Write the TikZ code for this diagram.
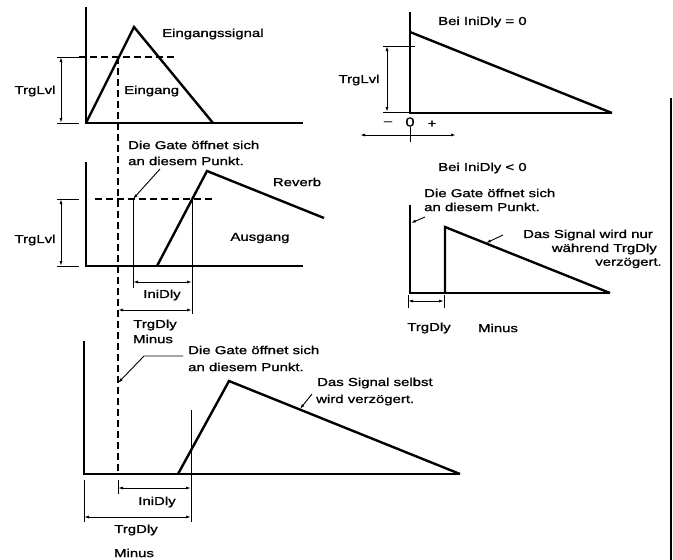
\documentclass[tikz,border=0pt]{standalone}
\usepackage{fontspec}
\setmainfont{Liberation Sans}[FakeStretch=1.3, FakeBold=1.2]
\usepackage{tikz}
\usetikzlibrary{arrows.meta}

\begin{document}
\begin{tikzpicture}[x=1pt, y=-1pt,
      sig/.style={line width=2.4pt, line join=miter},
      ax/.style={line width=1.1pt},
      thn/.style={line width=0.9pt},
      dsh/.style={line width=1.1pt, dash pattern=on 7pt off 4pt},
      dim/.style={{Latex[length=5pt,width=3pt]}-{Latex[length=5pt,width=3pt]}, line width=0.9pt},
      ptr/.style={-{Latex[length=5pt,width=3pt]}, line width=0.9pt},
      lbl/.style={font=\fontsize{11.5}{14}\selectfont, inner sep=0pt},
    ]
      \useasboundingbox (0,0) rectangle (673,560);

      % top left: Eingang
      \coordinate (tl-t) at (86,7);   \coordinate (tl-o) at (86,123);  \coordinate (tl-e) at (303,123);
      \coordinate (tl-p) at (134,27); \coordinate (tl-z) at (213,123);
      \coordinate (tl-h0) at (79,57); \coordinate (tl-h1) at (177,57);
      \coordinate (tl-k0) at (57,57); \coordinate (tl-k1) at (57,123); \coordinate (tl-k2) at (79,123);
      \coordinate (tl-d0) at (61,57); \coordinate (tl-d1) at (61,123);
      \draw[ax] (tl-t) -- (tl-o) -- (tl-e);
      \draw[sig] (tl-o) -- (tl-p) -- (tl-z);
      \draw[dsh] (tl-h0) -- (tl-h1);
      \draw[thn] (tl-k0) -- (tl-h0); \draw[thn] (tl-k1) -- (tl-k2);
      \draw[dim] (tl-d0) -- (tl-d1);
      \node[lbl] (tl-lvl) at (35,91) {TrgLvl};
      \node[lbl, anchor=west] (tl-sig) at (162,34) {Eingangssignal};
      \node[lbl, anchor=west] (tl-ein) at (124,91) {Eingang};

      % gate line through all left plots
      \coordinate (g-t) at (118,57); \coordinate (g-b) at (118,474);
      \coordinate (g-k0) at (118,480); \coordinate (g-k1) at (118,494);
      \draw[dsh] (g-t) -- (g-b);
      \draw[thn] (g-k0) -- (g-k1);

      % middle left: Ausgang
      \coordinate (ml-t) at (86,162); \coordinate (ml-o) at (86,266); \coordinate (ml-e) at (303,266);
      \coordinate (ml-h0) at (95,199); \coordinate (ml-h1) at (212,199);
      \coordinate (ml-k0) at (57,199); \coordinate (ml-k1) at (79,199);
      \coordinate (ml-k2) at (57,266); \coordinate (ml-k3) at (79,266);
      \coordinate (ml-d0) at (61,199); \coordinate (ml-d1) at (61,266);
      \coordinate (ml-g0) at (133,199); \coordinate (ml-g1) at (133,288);
      \coordinate (ml-s0) at (157,266); \coordinate (ml-p) at (207,171); \coordinate (ml-z) at (324,218);
      \coordinate (ml-v0) at (192,199); \coordinate (ml-v1) at (192,314);
      \coordinate (ml-i0) at (133,282); \coordinate (ml-i1) at (192,282);
      \coordinate (ml-m0) at (118,310); \coordinate (ml-m1) at (192,310);
      \coordinate (ml-a0) at (160,169);
      \draw[ax] (ml-t) -- (ml-o) -- (ml-e);
      \draw[dsh] (ml-h0) -- (ml-h1);
      \draw[thn] (ml-k0) -- (ml-k1); \draw[thn] (ml-k2) -- (ml-k3);
      \draw[dim] (ml-d0) -- (ml-d1);
      \draw[thn] (ml-g0) -- (ml-g1);
      \draw[sig] (ml-s0) -- (ml-p) -- (ml-z);
      \draw[thn] (ml-v0) -- (ml-v1);
      \draw[dim] (ml-i0) -- (ml-i1);
      \draw[dim] (ml-m0) -- (ml-m1);
      \draw[ptr] (ml-a0) -- (ml-g0);
      \node[lbl] (ml-lvl) at (35,240) {TrgLvl};
      \node[lbl, anchor=west] (ml-gate1) at (128,145) {Die Gate öffnet sich};
      \node[lbl, anchor=west] (ml-gate2) at (128,161) {an diesem Punkt.};
      \node[lbl] (ml-rev) at (297,182) {Reverb};
      \node[lbl] (ml-aus) at (260,238) {Ausgang};
      \node[lbl] (ml-ini) at (162,295) {IniDly};
      \node[lbl] (ml-trg) at (155,325) {TrgDly};
      \node[lbl] (ml-min) at (153,339) {Minus};

      % bottom left: delayed signal
      \coordinate (bl-t) at (84,341); \coordinate (bl-o) at (84,474); \coordinate (bl-e) at (460,474);
      \coordinate (bl-s0) at (178,474); \coordinate (bl-p) at (229,381);
      \coordinate (bl-v0) at (191,410); \coordinate (bl-v1) at (191,522);
      \coordinate (bl-k0) at (84,480); \coordinate (bl-k1) at (84,522);
      \coordinate (bl-i0) at (118,488); \coordinate (bl-i1) at (191,488);
      \coordinate (bl-m0) at (84,517); \coordinate (bl-m1) at (191,517);
      \coordinate (bl-l0) at (183,356); \coordinate (bl-l1) at (144,356); \coordinate (bl-l2) at (118,383);
      \coordinate (bl-a0) at (312,394); \coordinate (bl-a1) at (300,409);
      \draw[ax] (bl-t) -- (bl-o) -- (bl-e);
      \draw[sig] (bl-s0) -- (bl-p) -- (bl-e);
      \draw[thn] (bl-v0) -- (bl-v1);
      \draw[thn] (bl-k0) -- (bl-k1);
      \draw[dim] (bl-i0) -- (bl-i1);
      \draw[dim] (bl-m0) -- (bl-m1);
      \draw[ptr] (bl-l0) -- (bl-l1) -- (bl-l2);
      \draw[ptr] (bl-a0) -- (bl-a1);
      \node[lbl, anchor=west] (bl-gate1) at (188,350) {Die Gate öffnet sich};
      \node[lbl, anchor=west] (bl-gate2) at (188,367) {an diesem Punkt.};
      \node[lbl, anchor=west] (bl-sel1) at (317,383) {Das Signal selbst};
      \node[lbl, anchor=west] (bl-sel2) at (316,400) {wird verzögert.};
      \node[lbl] (bl-ini) at (157,502) {IniDly};
      \node[lbl] (bl-trg) at (136,530) {TrgDly};
      \node[lbl] (bl-min) at (134,553) {Minus};

      % top right: IniDly = 0
      \coordinate (tr-t) at (410,12); \coordinate (tr-o) at (410,113); \coordinate (tr-e) at (612,113);
      \coordinate (tr-p) at (410,32);
      \coordinate (tr-k0) at (383,46); \coordinate (tr-k1) at (415,46);
      \coordinate (tr-k2) at (383,112); \coordinate (tr-k3) at (410,112);
      \coordinate (tr-d0) at (387,46); \coordinate (tr-d1) at (387,112);
      \coordinate (tr-x0) at (360,135); \coordinate (tr-x1) at (456,135);
      \coordinate (tr-x2) at (410,127); \coordinate (tr-x3) at (410,142);
      \draw[ax] (tr-t) -- (tr-o) -- (tr-e);
      \draw[sig] (tr-p) -- (tr-e);
      \draw[thn] (tr-k0) -- (tr-k1); \draw[thn] (tr-k2) -- (tr-k3);
      \draw[dim] (tr-d0) -- (tr-d1);
      \draw[dim] (tr-x0) -- (tr-x1);
      \draw[thn] (tr-x2) -- (tr-x3);
      \node[lbl] (tr-lvl) at (359,80) {TrgLvl};
      \node[lbl, anchor=west] (tr-bei) at (438,22) {Bei IniDly = 0};
      \node[lbl] (tr-neg) at (388,123) {–};
      \node[lbl, font=\fontsize{13}{14}\selectfont] (tr-nul) at (410,122) {0};
      \node[lbl] (tr-pos) at (432,124) {+};

      % middle right: IniDly < 0
      \coordinate (mr-t) at (410,205); \coordinate (mr-o) at (410,293); \coordinate (mr-e) at (610,293);
      \coordinate (mr-s0) at (445,293); \coordinate (mr-p) at (445,227);
      \coordinate (mr-a0) at (425,217); \coordinate (mr-a1) at (411,223);
      \coordinate (mr-b0) at (503,235); \coordinate (mr-b1) at (486,243);
      \coordinate (mr-i0) at (408,301); \coordinate (mr-i1) at (444,301);
      \coordinate (mr-k0) at (408,295); \coordinate (mr-k1) at (408,308);
      \coordinate (mr-k2) at (444,295); \coordinate (mr-k3) at (444,308);
      \draw[ax] (mr-t) -- (mr-o) -- (mr-e);
      \draw[sig] (mr-s0) -- (mr-p) -- (mr-e);
      \draw[ptr] (mr-a0) -- (mr-a1);
      \draw[ptr] (mr-b0) -- (mr-b1);
      \draw[dim] (mr-i0) -- (mr-i1);
      \draw[thn] (mr-k0) -- (mr-k1); \draw[thn] (mr-k2) -- (mr-k3);
      \node[lbl, anchor=west] (mr-bei) at (438,168) {Bei IniDly < 0};
      \node[lbl, anchor=west] (mr-gate1) at (424,193) {Die Gate öffnet sich};
      \node[lbl, anchor=west] (mr-gate2) at (424,207) {an diesem Punkt.};
      \node[lbl, anchor=east] (mr-nur1) at (653,235) {Das Signal wird nur};
      \node[lbl, anchor=east] (mr-nur2) at (657,249) {während TrgDly};
      \node[lbl, anchor=east] (mr-nur3) at (662,263) {verzögert.};
      \node[lbl] (mr-trg) at (429,328) {TrgDly};
      \node[lbl] (mr-min) at (498,328) {Minus};

      % page edge
      \coordinate (edge-t) at (671,98); \coordinate (edge-b) at (671,560);
      \draw[ax] (edge-t) -- (edge-b);
    \end{tikzpicture}
\end{document}
